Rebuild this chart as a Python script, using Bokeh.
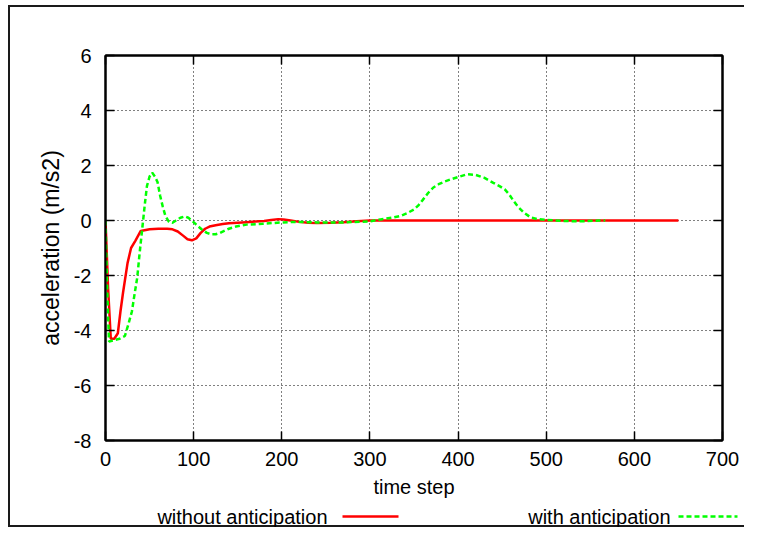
from bokeh.plotting import figure
from bokeh.layouts import column
from bokeh.models import LinearAxis, FixedTicker, Range1d, CustomJSTickFormatter
from bokeh.core.properties import value
from bokeh.embed import file_html
from bokeh.resources import INLINE

# ---- data ----
x_ticks = [0, 100, 200, 300, 400, 500, 600, 700]
y_ticks = [-8, -6, -4, -2, 0, 2, 4, 6]

t_without = [0, 3, 6, 10, 14, 17, 20, 25, 29, 34, 40, 50, 60, 70, 76, 82, 88,
             93, 98, 103, 108, 113, 118, 125, 133, 140, 150, 160, 170, 180,
             188, 196, 202, 210, 220, 230, 240, 255, 270, 285, 300, 320, 350,
             400, 450, 500, 550, 600, 650]
a_without = [0.0, -2.5, -4.3, -4.3, -4.1, -3.3, -2.6, -1.55, -1.0, -0.73, -0.38,
             -0.32, -0.3, -0.3, -0.32, -0.4, -0.55, -0.68, -0.72, -0.65, -0.45,
             -0.3, -0.22, -0.17, -0.13, -0.1, -0.08, -0.06, -0.04, -0.02, 0.02,
             0.05, 0.04, 0.0, -0.05, -0.08, -0.09, -0.08, -0.06, -0.03, 0.0,
             0.0, 0.0, 0.0, 0.0, 0.0, 0.0, 0.0, 0.0]

t_with = [0, 2, 4, 10, 16, 22, 26, 30, 33, 36, 39, 42, 45, 47, 50, 53, 56, 59,
          62, 65, 68, 72, 76, 80, 85, 90, 94, 98, 103, 109, 115, 120, 125, 130,
          140, 148, 160, 178, 195, 215, 240, 270, 300, 312, 325, 335, 343, 350,
          355, 360, 366, 372, 378, 385, 392, 400, 410, 420, 430, 440, 447, 453,
          458, 463, 468, 475, 482, 490, 500, 520, 540, 560, 567]
a_with = [0.0, -2.6, -4.4, -4.35, -4.3, -4.2, -3.77, -3.3, -2.67, -2.08, -1.1,
          -0.2, 0.7, 1.25, 1.6, 1.74, 1.6, 1.4, 0.9, 0.5, 0.16, -0.05, -0.08,
          0.0, 0.1, 0.15, 0.1, 0.0, -0.15, -0.32, -0.45, -0.5, -0.5, -0.45,
          -0.3, -0.22, -0.15, -0.12, -0.08, -0.05, -0.07, -0.07, -0.03, 0.04,
          0.1, 0.17, 0.28, 0.4, 0.55, 0.75, 1.0, 1.2, 1.32, 1.42, 1.5, 1.58,
          1.68, 1.66, 1.55, 1.37, 1.25, 1.13, 0.95, 0.71, 0.5, 0.28, 0.12,
          0.05, 0.02, -0.02, -0.03, 0.0, 0.0]

series_labels = ["without anticipation", "with anticipation"]
series_colors = ["#ff0000", "#00ff00"]
series_dashes = ["solid", "5 3"]

FONT = "Liberation Sans"
FS = "20px"

W, H1, H2 = 744, 505, 22
FL, FT, FR = 105, 55, 22
FB = H1 - 440

p = figure(width=W, height=H1, output_backend="svg", toolbar_location=None,
           x_range=Range1d(0, 700), y_range=Range1d(-8, 6),
           min_border_left=FL, min_border_right=FR, min_border_top=FT,
           min_border_bottom=FB, frame_align=False,
           x_axis_label="time step", y_axis_label="acceleration (m/s2)")

p.outline_line_color = "black"
p.outline_line_width = 2
p.background_fill_color = "white"
p.border_fill_color = None

for ax in (p.xaxis[0], p.yaxis[0]):
    ax.axis_line_color = "black"
    ax.axis_line_width = 2
    ax.major_tick_in = 9
    ax.major_tick_out = 0
    ax.major_tick_line_width = 1.5
    ax.minor_tick_line_color = None
    ax.major_label_text_font = FONT
    ax.major_label_text_font_size = FS
    ax.major_label_text_color = "black"
    ax.axis_label_text_font = FONT
    ax.axis_label_text_font_size = FS
    ax.axis_label_text_font_style = "normal"
    ax.axis_label_text_color = "black"

p.xaxis[0].ticker = FixedTicker(ticks=x_ticks)
p.yaxis[0].ticker = FixedTicker(ticks=y_ticks)
p.xaxis[0].major_label_overrides = {t: str(t) for t in x_ticks}
p.yaxis[0].major_label_overrides = {t: str(t) for t in y_ticks}
p.xaxis[0].major_label_standoff = 11
p.yaxis[0].major_label_standoff = 14
p.xaxis[0].axis_label_standoff = 7
p.yaxis[0].axis_label_standoff = 7
p.yaxis[0].axis_label_text_font_size = "23px"

# mirrored ticks on top and right (no labels)
for loc, tick in (("above", x_ticks), ("right", y_ticks)):
    ax = LinearAxis(ticker=FixedTicker(ticks=tick),
                    formatter=CustomJSTickFormatter(code="return ''"))
    ax.axis_line_color = "black"
    ax.axis_line_width = 2
    ax.major_tick_in = 9
    ax.major_tick_out = 0
    ax.major_tick_line_width = 1.5
    ax.minor_tick_line_color = None
    ax.major_label_standoff = 0
    p.add_layout(ax, loc)

p.xgrid.ticker = FixedTicker(ticks=x_ticks)
p.ygrid.ticker = FixedTicker(ticks=y_ticks)
for g in (p.xgrid[0], p.ygrid[0]):
    g.grid_line_color = "black"
    g.grid_line_alpha = 1.0
    g.grid_line_width = 1
    g.grid_line_dash = "1 3"

p.line(t_without, a_without, line_color=series_colors[0], line_width=2.5,
       line_dash=series_dashes[0])
p.line(t_with, a_with, line_color=series_colors[1], line_width=2.5,
       line_dash=series_dashes[1])

# ---- key strip below the plot, gnuplot style: text, then a line sample ----
# its x axis is in pixels of the strip (layout positions, not data)
key = figure(width=W, height=H2, output_backend="svg", toolbar_location=None,
             x_range=Range1d(0, W), y_range=Range1d(0, 1),
             x_axis_type=None, y_axis_type=None, frame_align=False,
             min_border=0, min_border_left=0, min_border_right=0,
             min_border_top=0, min_border_bottom=0)
key.outline_line_color = None
key.grid.visible = False
key.background_fill_color = None
key.border_fill_color = None

text_right = [327, 670]      # right edge of each key text
sample_x0 = [342, 678]
sample_x1 = [398, 737]
key.text(x=text_right, y=[0.5, 0.5], text=series_labels, text_align="right",
         text_baseline="middle", text_font=value(FONT), text_font_size="20px",
         text_color="black")
for i in range(2):
    key.segment(x0=[sample_x0[i]], y0=[0.5], x1=[sample_x1[i]], y1=[0.5],
                line_color=series_colors[i], line_width=2.5,
                line_dash=series_dashes[i])

# outer box of the picture (left, top, bottom edges) painted behind the canvases
edge = "linear-gradient(#1a1a1a, #1a1a1a)"
layout = column(p, key, spacing=0,
                styles={"background-color": "white",
                        "background-image": f"{edge}, {edge}, {edge}",
                        "background-size": f"2px {H1 + H2 - 5}px, {W - 8}px 2px, {W - 8}px 2px",
                        "background-position": f"8px 5px, 8px 5px, 8px {H1 + H2 - 2}px",
                        "background-repeat": "no-repeat"})

open("out.html", "w").write(file_html(layout, INLINE))
